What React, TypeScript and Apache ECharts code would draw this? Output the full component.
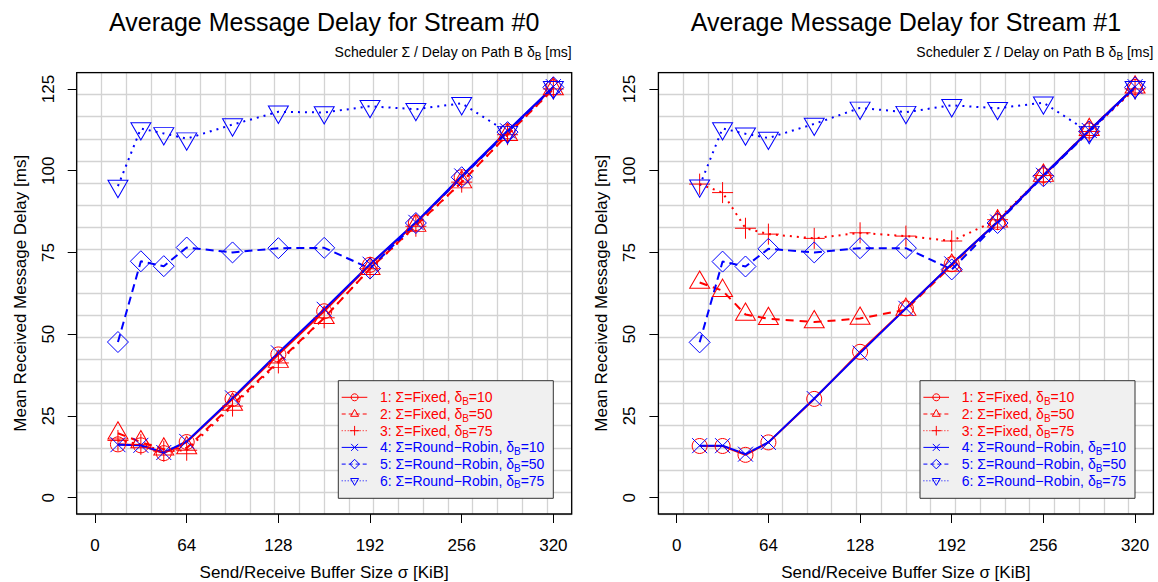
import { useEffect, useRef } from 'react';
import * as echarts from 'echarts';

// ---------------- data ----------------
const bufferSizes = [16, 32, 48, 64, 96, 128, 160, 192, 224, 256, 288, 320];
const xTicks = [0, 64, 128, 192, 256, 320];
const yTicks = [0, 25, 50, 75, 100, 125];

// Stream #0
const s0Fixed10 = [16.3, 16.0, 13.6, 17.0, 30.2, 43.8, 57.0, 71.2, 84.0, 98.0, 112.0, 125.5];
const s0Fixed50 = [19.7, 17.0, 14.8, 15.2, 28.5, 41.6, 55.0, 70.0, 83.2, 96.5, 111.0, 125.0];
const s0Fixed75 = [17.5, 16.3, 14.2, 14.5, 28.0, 41.2, 55.0, 70.0, 83.0, 96.5, 111.0, 125.0];
const s0RR10 = [16.2, 16.0, 13.8, 17.2, 30.5, 44.3, 57.6, 71.4, 84.2, 98.4, 112.2, 125.7];
const s0RR50 = [47.6, 72.3, 70.8, 76.5, 75.0, 76.3, 76.4, 70.1, 84.0, 98.0, 111.8, 125.5];
const s0RR75 = [95.3, 112.9, 111.4, 109.8, 114.1, 118.0, 117.8, 119.7, 118.8, 120.6, 111.8, 125.5];

// Stream #1
const s1Fixed10 = [15.8, 15.8, 13.1, 16.9, 30.2, 44.6, 57.9, 71.4, 84.3, 98.6, 112.3, 125.6];
const s1Fixed50 = [65.8, 63.3, 56.0, 54.7, 53.7, 54.8, 57.5, 71.0, 84.5, 98.5, 112.5, 125.5];
const s1Fixed75 = [95.9, 93.3, 82.4, 80.6, 79.3, 81.0, 80.0, 78.5, 85.0, 98.5, 112.0, 125.0];
const s1RR10 = [15.9, 15.9, 13.3, 16.9, 30.3, 44.2, 57.9, 71.5, 84.3, 98.6, 112.3, 125.7];
const s1RR50 = [47.5, 72.2, 70.7, 76.1, 75.0, 76.3, 76.3, 69.8, 84.0, 98.3, 112.0, 125.5];
const s1RR75 = [95.4, 112.9, 111.3, 110.0, 114.3, 119.2, 117.9, 120.0, 119.1, 120.8, 111.8, 125.5];

const streamTitles = ['Average Message Delay for Stream #0', 'Average Message Delay for Stream #1'];
const streams = [
  [s0Fixed10, s0Fixed50, s0Fixed75, s0RR10, s0RR50, s0RR75],
  [s1Fixed10, s1Fixed50, s1Fixed75, s1RR10, s1RR50, s1RR75],
];
const legendLabels = [
  ['1: Σ=Fixed, δ', 'B', '=10'],
  ['2: Σ=Fixed, δ', 'B', '=50'],
  ['3: Σ=Fixed, δ', 'B', '=75'],
  ['4: Σ=Round−Robin, δ', 'B', '=10'],
  ['5: Σ=Round−Robin, δ', 'B', '=50'],
  ['6: Σ=Round−Robin, δ', 'B', '=75'],
];

// ---------------- styles / layout ----------------
const FONT = '"Liberation Sans", Arial, Helvetica, sans-serif';
const RED = '#ff0000';
const BLUE = '#0000ff';
const GRIDS = [
  { left: 76.7, top: 72.6, width: 495, height: 441.4 },
  { left: 658.4, top: 72.6, width: 495, height: 441.4 },
];

const SYM = {
  circle: { symbol: 'circle', size: 15, offset: [0, 0] },
  triangle: { symbol: 'path://M10,0 L20,17.32 L0,17.32 Z', size: [20, 17.3], offset: [0, '-16.7%'] },
  plus: { symbol: 'path://M0,10 L20,10 M10,0 L10,20', size: 21, offset: [0, 0] },
  cross: { symbol: 'path://M0,0 L20,20 M20,0 L0,20', size: 15, offset: [0, 0] },
  diamond: { symbol: 'diamond', size: 21, offset: [0, 0] },
  invTriangle: { symbol: 'path://M0,0 L20,0 L10,17.32 Z', size: [20, 17.3], offset: [0, '16.7%'] },
};

const seriesStyles = [
  { color: RED, dash: 'solid', sym: 'circle', width: 2 },
  { color: RED, dash: [8, 6], sym: 'triangle', width: 2 },
  { color: RED, dash: [2, 5], sym: 'plus', width: 2 },
  { color: BLUE, dash: 'solid', sym: 'cross', width: 2 },
  { color: BLUE, dash: [8, 5], sym: 'diamond', width: 2 },
  { color: BLUE, dash: [2, 5], sym: 'invTriangle', width: 2 },
];
const legendDash = ['solid', [4, 3], [1, 2], 'solid', [4, 3], [1, 2]];

function legendSymbol(kind: string, cx: number, cy: number, color: string) {
  const st = { fill: 'none', stroke: color, lineWidth: 1 };
  switch (kind) {
    case 'circle':
      return [{ type: 'circle', shape: { cx, cy, r: 3.5 }, style: st, z: 101 }];
    case 'triangle':
      return [{ type: 'polygon', shape: { points: [[cx, cy - 4.6], [cx + 4, cy + 2.3], [cx - 4, cy + 2.3]] }, style: st, z: 101 }];
    case 'invTriangle':
      return [{ type: 'polygon', shape: { points: [[cx - 4, cy - 2.3], [cx + 4, cy - 2.3], [cx, cy + 4.6]] }, style: st, z: 101 }];
    case 'diamond':
      return [{ type: 'polygon', shape: { points: [[cx, cy - 4.8], [cx + 4.8, cy], [cx, cy + 4.8], [cx - 4.8, cy]] }, style: st, z: 101 }];
    case 'plus':
      return [
        { type: 'line', shape: { x1: cx - 4.8, y1: cy, x2: cx + 4.8, y2: cy }, style: st, z: 101 },
        { type: 'line', shape: { x1: cx, y1: cy - 4.8, x2: cx, y2: cy + 4.8 }, style: st, z: 101 },
      ];
    default:
      return [
        { type: 'line', shape: { x1: cx - 3.5, y1: cy - 3.5, x2: cx + 3.5, y2: cy + 3.5 }, style: st, z: 101 },
        { type: 'line', shape: { x1: cx + 3.5, y1: cy - 3.5, x2: cx - 3.5, y2: cy + 3.5 }, style: st, z: 101 },
      ];
  }
}

function buildOption() {
  const xAxis: any[] = [];
  const yAxis: any[] = [];
  const series: any[] = [];
  const graphic: any[] = [];

  GRIDS.forEach((g, gi) => {
    xAxis.push({
      gridIndex: gi,
      type: 'value',
      min: -12.8,
      max: 332.8,
      position: 'bottom',
      axisLine: { show: false, onZero: false },
      splitLine: { show: false },
      axisTick: { show: true, customValues: xTicks, length: 9, lineStyle: { color: '#000', width: 1 } },
      axisLabel: { customValues: xTicks, margin: 23, fontSize: 17, color: '#000', fontFamily: FONT },
      name: 'Send/Receive Buffer Size σ [KiB]',
      nameLocation: 'middle',
      nameGap: 50,
      nameTextStyle: { fontSize: 17, color: '#000', fontFamily: FONT },
    });
    xAxis.push({
      gridIndex: gi,
      type: 'value',
      min: 0,
      max: 20,
      interval: 1,
      axisLine: { show: false, onZero: false },
      axisTick: { show: false },
      axisLabel: { show: false },
      splitLine: { show: true, lineStyle: { color: '#d3d3d3', width: 1.3 } },
    });
    yAxis.push({
      gridIndex: gi,
      type: 'value',
      min: -5,
      max: 130,
      position: 'left',
      axisLine: { show: false, onZero: false },
      splitLine: { show: false },
      axisTick: { show: true, customValues: yTicks, length: 9, lineStyle: { color: '#000', width: 1 } },
      axisLabel: { customValues: yTicks, rotate: 90, margin: 20, fontSize: 17, color: '#000', fontFamily: FONT },
      name: 'Mean Received Message Delay [ms]',
      nameLocation: 'middle',
      nameGap: 48,
      nameRotate: 90,
      nameTextStyle: { fontSize: 17, color: '#000', fontFamily: FONT },
    });
    yAxis.push({
      gridIndex: gi,
      type: 'value',
      min: 0,
      max: 20,
      interval: 1,
      axisLine: { show: false, onZero: false },
      axisTick: { show: false },
      axisLabel: { show: false },
      splitLine: { show: true, lineStyle: { color: '#d3d3d3', width: 1.3 } },
    });

    streams[gi].forEach((vals, si) => {
      const st = seriesStyles[si];
      const sym = (SYM as any)[st.sym];
      series.push({
        type: 'line',
        xAxisIndex: gi * 2,
        yAxisIndex: gi * 2,
        data: bufferSizes.map((x, i) => [x, vals[i]]),
        symbol: sym.symbol,
        symbolSize: sym.size,
        symbolOffset: sym.offset,
        showSymbol: true,
        lineStyle: { color: st.color, width: st.width, type: st.dash, cap: 'butt' },
        itemStyle: { color: 'none', borderColor: st.color, borderWidth: 1 },
        clip: false,
        silent: true,
        emphasis: { disabled: true },
        z: 3,
      });
    });

    // plot box
    graphic.push({
      type: 'rect',
      shape: { x: g.left, y: g.top, width: g.width, height: g.height },
      style: { fill: 'none', stroke: '#000', lineWidth: 1.3 },
      z: 50,
      silent: true,
    });

    // titles
    graphic.push({
      type: 'text',
      x: g.left + g.width / 2,
      y: 22,
      style: { text: streamTitles[gi], fontSize: 25, fontFamily: FONT, fill: '#000', align: 'center', verticalAlign: 'middle' },
      z: 100,
    });
    graphic.push({
      type: 'text',
      x: g.left + g.width,
      y: 52,
      style: {
        text: '{n|Scheduler Σ / Delay on Path B δ}{s|B}{n| [ms]}',
        rich: {
          n: { fontSize: 14, fontFamily: FONT, fill: '#000' },
          s: { fontSize: 10, fontFamily: FONT, fill: '#000', padding: [8, 0, 0, 0] },
        },
        align: 'right',
        verticalAlign: 'middle',
      },
      z: 100,
    });

    // legend
    const lx = g.left + 261.6;
    const ly = 380.7;
    graphic.push({
      type: 'rect',
      shape: { x: lx, y: ly, width: 215, height: 117.6 },
      style: { fill: '#f0f0f0', stroke: '#333', lineWidth: 1 },
      z: 100,
      silent: true,
    });
    legendLabels.forEach((lab, i) => {
      const st = seriesStyles[i];
      const cy = ly + 16.6 + i * 16.7;
      graphic.push({
        type: 'line',
        shape: { x1: lx + 3.4, y1: cy, x2: lx + 29, y2: cy },
        style: { stroke: st.color, lineWidth: 1, lineDash: legendDash[i] === 'solid' ? null : legendDash[i] },
        z: 101,
      });
      legendSymbol(st.sym, lx + 16.3, cy, st.color).forEach((el) => graphic.push(el));
      graphic.push({
        type: 'text',
        x: lx + 41.7,
        y: cy,
        style: {
          text: `{n|${lab[0]}}{s|${lab[1]}}{n|${lab[2]}}`,
          rich: {
            n: { fontSize: 14, fontFamily: FONT, fill: st.color },
            s: { fontSize: 10, fontFamily: FONT, fill: st.color, padding: [8, 0, 0, 0] },
          },
          align: 'left',
          verticalAlign: 'middle',
        },
        z: 102,
      });
    });
  });

  return {
    animation: false,
    backgroundColor: '#ffffff',
    textStyle: { fontFamily: FONT },
    grid: GRIDS.map((g) => ({
      left: g.left,
      top: g.top,
      width: g.width,
      height: g.height,
      containLabel: false,
      outerBoundsMode: 'none',
    })),
    xAxis,
    yAxis,
    series,
    graphic,
  };
}

export default function App() {
  const ref = useRef<HTMLDivElement>(null);
  useEffect(() => {
    document.body.style.margin = '0';
    if (!ref.current) return;
    const chart = echarts.init(ref.current, null, { renderer: 'svg' });
    chart.setOption(buildOption() as any);
    return () => chart.dispose();
  }, []);
  return <div ref={ref} style={{ position: 'fixed', left: 0, top: 0, width: 1158, height: 582 }} />;
}
